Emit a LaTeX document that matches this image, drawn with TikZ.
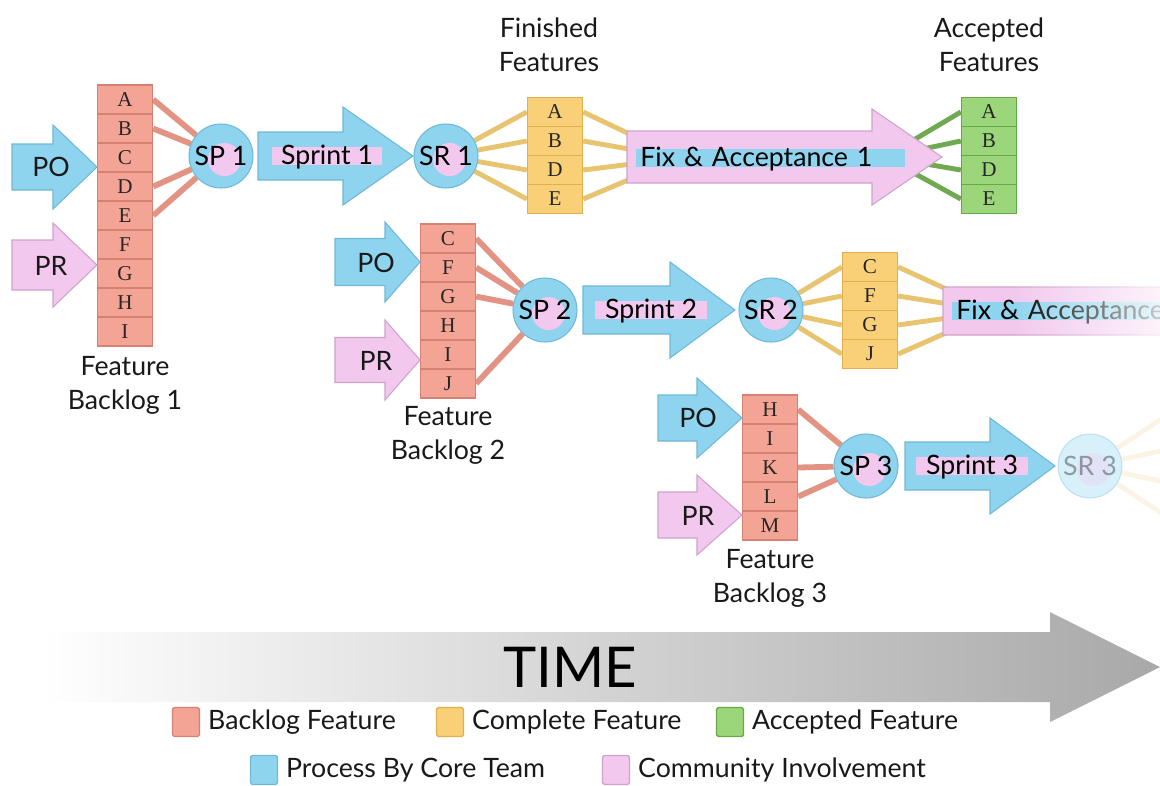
\documentclass[tikz,border=0pt]{standalone}
\usepackage{fontspec}
\setmainfont{Lato}
\newfontfamily\cellfont{Liberation Serif}
\usetikzlibrary{positioning,backgrounds,fadings,calc}
\definecolor{bklCol}{HTML}{F4A494}
\definecolor{bklEdge}{HTML}{D68273}
\definecolor{bklLine}{HTML}{E29384}
\definecolor{cmpCol}{HTML}{F9D078}
\definecolor{cmpEdge}{HTML}{E0B04E}
\definecolor{cmpLine}{HTML}{E8C470}
\definecolor{accCol}{HTML}{9CD67A}
\definecolor{accEdge}{HTML}{66AA48}
\definecolor{accLine}{HTML}{70AA50}
\definecolor{coreCol}{HTML}{8ED4EE}
\definecolor{coreEdge}{HTML}{6FB8D6}
\definecolor{comCol}{HTML}{F2C8EE}
\definecolor{comEdge}{HTML}{CFA2CA}
\newcommand{\lbl}{\fontsize{15.2}{19.3}\selectfont}
% block arrow: [style]{x left}{x head}{x tip}{y}{half shaft}{half head}
\newcommand{\barrow}[7][]{%
  \draw[#1] (#2,#5-#6) -- (#3,#5-#6) -- (#3,#5-#7) -- (#4,#5)
    -- (#3,#5+#7) -- (#3,#5+#6) -- (#2,#5+#6) -- cycle;}
% column of feature cells: name, colour style, x, top, letters
\newcommand{\featcol}[5]{%
  \foreach \l [count=\i] in {#5}{\node[cell,#2] (#1-\l) at (#3,#4+29*\i-14.5) {\l};}}
\tikzset{
  cell/.style={minimum width=1.1cm, minimum height=0.58cm, inner sep=0pt, line width=0.8pt,
               font=\cellfont\fontsize{12}{13}\selectfont, text=black!85},
  bkl/.style={fill=bklCol, draw=bklEdge},
  cmp/.style={fill=cmpCol, draw=cmpEdge},
  acc/.style={fill=accCol, draw=accEdge},
  core/.style={fill=coreCol, draw=coreEdge, line width=0.6pt},
  com/.style={fill=comCol, draw=comEdge, line width=0.6pt},
  fix/.style={draw=comEdge, line width=0.6pt, left color=comCol, middle color=comCol!30, right color=comCol},
  timeband/.style={draw=none, left color=white, middle color=black!12, right color=black!34},
  lbl/.style={font=\lbl, text=black!90},
  meet/.style={circle, core, minimum size=1.28cm, inner sep=0pt, font=\lbl,
               path picture={\fill[comCol] ([shift={(2pt,-2pt)}]path picture bounding box.center) circle (0.33cm);}},
  tag/.style={fill=comCol, inner xsep=0pt, inner ysep=0pt, text height=10pt, text depth=0pt, font=\lbl},
  ftag/.style={tag, fill=coreCol, anchor=west, inner xsep=2.3pt, text width=#1, align=left},
  bline/.style={bklLine, line width=3.3pt},
  yline/.style={cmpLine, line width=2.8pt},
  gline/.style={accLine, line width=2.8pt},
  key/.style={minimum width=0.54cm, minimum height=0.58cm, inner sep=0pt, rounded corners=1pt, line width=0.8pt},
}

\begin{document}
\begin{tikzpicture}[x=0.02cm, y=-0.02cm]
  \clip (0,0) rectangle (1160,785);

  % time axis
  \barrow[timeband]{40}{1050}{1160}{667}{35}{55}
  \node[font=\fontsize{32}{36}\selectfont] (time) at (570,667) {TIME};

  % sprint 1
  \featcol{b1}{bkl}{125}{85}{A,B,C,D,E,F,G,H,I}
  \barrow[core]{12}{53}{97}{167}{23}{42}
  \node[lbl] (po1) at (51,167) {PO};
  \barrow[com]{12}{53}{97}{265}{25}{42}
  \node[lbl] (pr1) at (51,266) {PR};
  \node[lbl, align=center] (fb1) at (125,385) {Feature\\Backlog 1};
  \node[meet] (sp1) at (221,156) {SP 1};
  \barrow[core]{258}{343}{413}{156}{24}{49}
  \node[tag, minimum width=2.22cm] (s1) at (327,156) {Sprint 1};
  \node[meet] (sr1) at (446,156) {SR 1};
  \featcol{f1}{cmp}{555}{97.5}{A,B,D,E}
  \node[lbl, align=center] (fin1) at (549,45) {Finished\\Features};
  \coordinate (fx1-in) at (640,157);
  \coordinate (fx1-mid) at (885,157);
  \barrow[fix]{627}{872}{942}{157}{26}{48}
  \node[ftag=5.22cm] (fx1) at (636,158) {Fix \& Acceptance 1};
  \featcol{a1}{acc}{989}{97.5}{A,B,D,E}
  \node[lbl, align=center] (acc1) at (989,45) {Accepted\\Features};

  % sprint 2
  \featcol{b2}{bkl}{448}{224}{C,F,G,H,I,J}
  \barrow[core]{335}{385}{420}{262}{23.5}{40}
  \node[lbl] (po2) at (376,263) {PO};
  \barrow[com]{335}{385}{420}{360}{22.5}{40}
  \node[lbl] (pr2) at (376,361) {PR};
  \node[lbl, align=center] (fb2) at (448,435) {Feature\\Backlog 2};
  \node[meet] (sp2) at (545,310) {SP 2};
  \barrow[core]{583}{670}{735}{310}{24}{48}
  \node[tag, minimum width=2.26cm] (s2) at (651,310) {Sprint 2};
  \node[meet] (sr2) at (771,310) {SR 2};
  \featcol{c2}{cmp}{870}{252.5}{C,F,G,J}
  \coordinate (fx2-in) at (955,311);
  \barrow[fix]{943}{1190}{1240}{311}{24}{48}
  \node[ftag=6cm] (fx2) at (952,311) {Fix \& Acceptance 2};

  % sprint 3
  \featcol{b3}{bkl}{770}{395}{H,I,K,L,M}
  \barrow[core]{658}{697}{742}{418}{23}{40}
  \node[lbl] (po3) at (698,418) {PO};
  \barrow[com]{658}{697}{742}{515}{23}{40}
  \node[lbl] (pr3) at (698,516) {PR};
  \node[lbl, align=center] (fb3) at (770,578) {Feature\\Backlog 3};
  \node[meet] (sp3) at (866,466) {SP 3};
  \barrow[core]{905}{990}{1055}{466}{24}{48}
  \node[tag, minimum width=2.26cm] (s3) at (972,466) {Sprint 3};
  \begin{scope}[opacity=0.35]
    \node[meet] (sr3) at (1090,466) {SR 3};
  \end{scope}
  \coordinate (tail1) at (1175,410);
  \coordinate (tail2) at (1175,448);
  \coordinate (tail3) at (1175,484);
  \coordinate (tail4) at (1175,522);

  % connectors
  \begin{pgfonlayer}{background}
    \foreach \l in {A,B,D,E}{\draw[bline] (b1-\l.east) -- (sp1);}
    \foreach \l in {A,B,D,E}{\draw[yline] (sr1) -- (f1-\l.west);}
    \foreach \l/\d in {A/-18,B/-6,D/6,E/18}{\draw[yline] (f1-\l.east) -- ($(fx1-in)+(0,\d)$);}
    \foreach \l in {A,B,D,E}{\draw[gline] (fx1-mid) -- (a1-\l.west);}
    \foreach \l in {C,F,G,J}{\draw[bline] (b2-\l.east) -- (sp2);}
    \foreach \l in {C,F,G,J}{\draw[yline] (sr2) -- (c2-\l.west);}
    \foreach \l/\d in {C/-18,F/-6,G/6,J/18}{\draw[yline] (c2-\l.east) -- ($(fx2-in)+(0,\d)$);}
    \foreach \l in {H,K,L}{\draw[bline] (b3-\l.east) -- (sp3);}
    \foreach \t in {tail1,tail2,tail3,tail4}{\draw[yline, opacity=0.18] (sr3) -- (\t);}
  \end{pgfonlayer}

  % legend
  \node[key, fill=bklCol, draw=bklEdge] (k1) at (186,722) {};
  \node[lbl, right=1pt of k1] (k1t) {Backlog Feature};
  \node[key, fill=cmpCol, draw=cmpEdge] (k2) at (450,722) {};
  \node[lbl, right=1pt of k2] (k2t) {Complete Feature};
  \node[key, fill=accCol, draw=accEdge] (k3) at (730,722) {};
  \node[lbl, right=1pt of k3] (k3t) {Accepted Feature};
  \node[key, fill=coreCol, draw=coreEdge] (k4) at (264,770) {};
  \node[lbl, right=1pt of k4] (k4t) {Process By Core Team};
  \node[key, fill=comCol, draw=comEdge] (k5) at (616,770) {};
  \node[lbl, right=1pt of k5] (k5t) {Community Involvement};

  % second acceptance runs off the page
  \fill[white, path fading=west] (1010,240) rectangle (1200,350);
\end{tikzpicture}
\end{document}
